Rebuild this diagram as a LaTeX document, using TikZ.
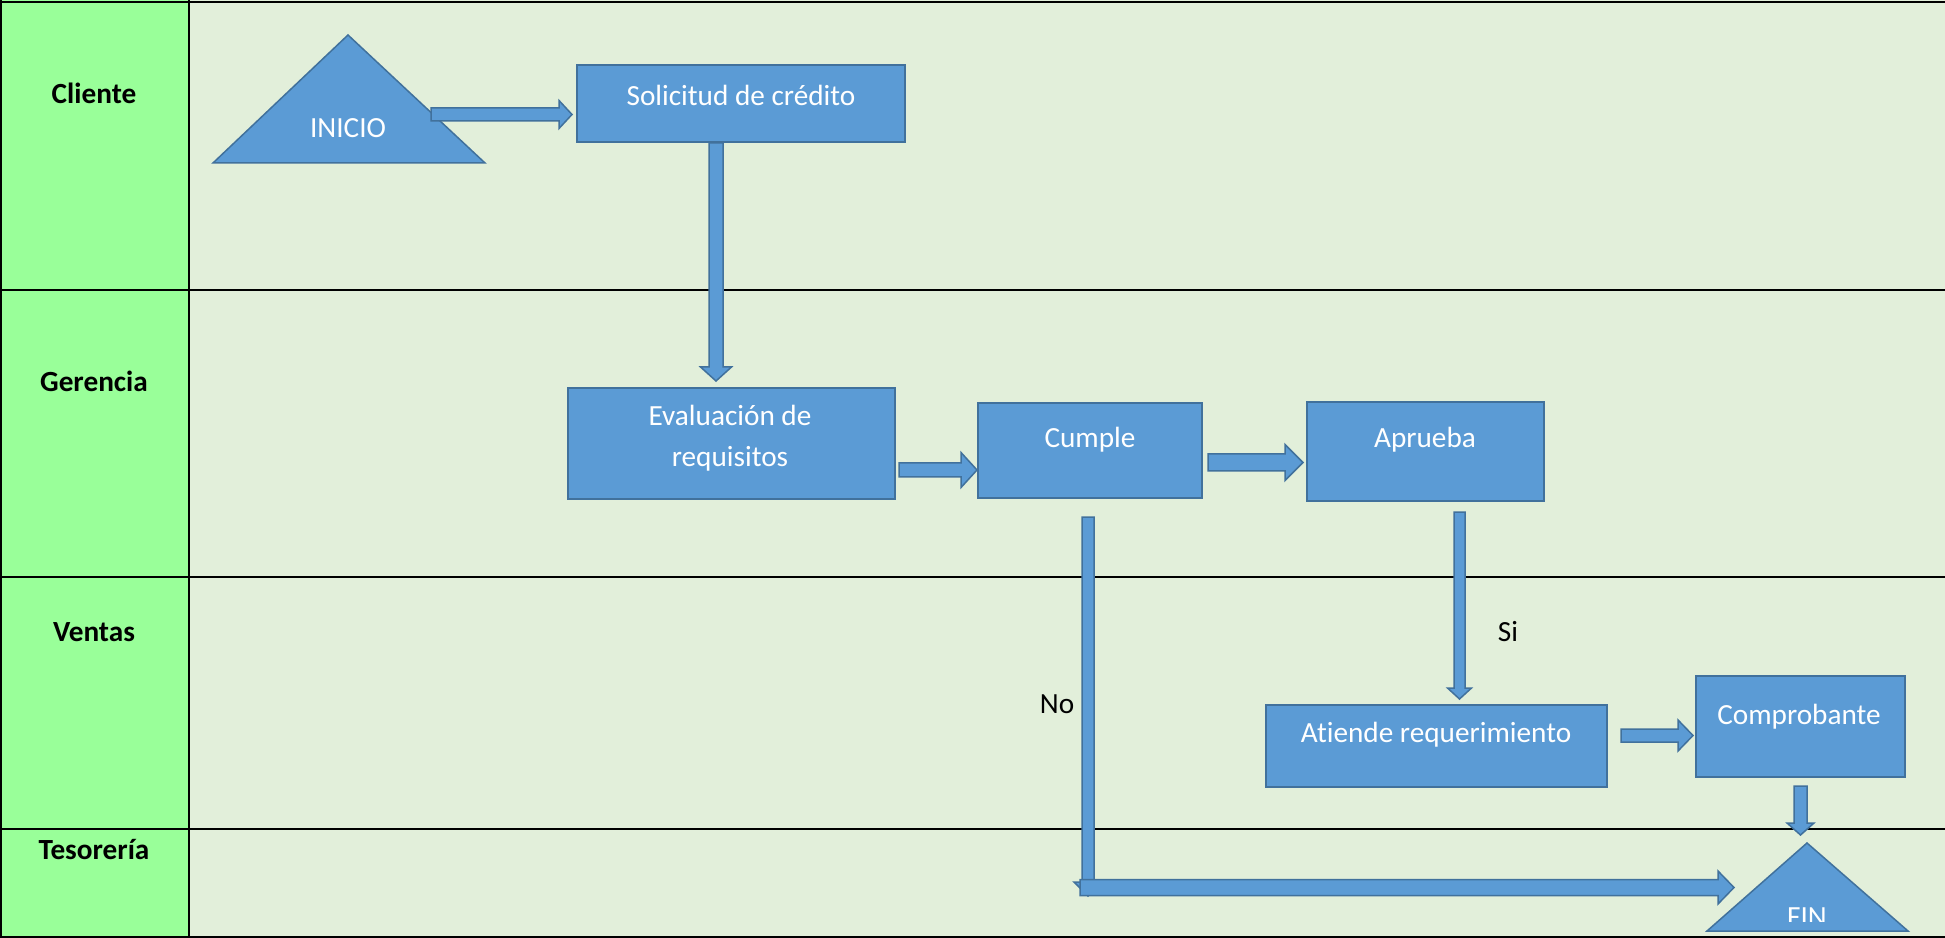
\documentclass[tikz,border=0pt]{standalone}
\usepackage{fontspec}
\setmainfont{Carlito}[Ligatures=NoCommon]
\usetikzlibrary{calc}
\definecolor{lanegreen}{RGB}{153,255,153}
\definecolor{lanebg}{RGB}{226,239,218}
\definecolor{boxblue}{RGB}{91,155,213}
\definecolor{boxedge}{RGB}{65,113,156}
% horizontal block arrow: #1 start, #2 tip (same y), #3 shaft half width, #4 head half width, #5 head length
\newcommand{\harrow}[5]{%
  \path[barrow] ($(#1)+(0,-#3)$) -- ($(#2)+(-#5,-#3)$) -- ($(#2)+(-#5,-#4)$) -- (#2)
    -- ($(#2)+(-#5,#4)$) -- ($(#2)+(-#5,#3)$) -- ($(#1)+(0,#3)$) -- cycle;}
% downward block arrow
\newcommand{\varrow}[5]{%
  \path[barrow] ($(#1)+(-#3,0)$) -- ($(#2)+(-#3,-#5)$) -- ($(#2)+(-#4,-#5)$) -- (#2)
    -- ($(#2)+(#4,-#5)$) -- ($(#2)+(#3,-#5)$) -- ($(#1)+(#3,0)$) -- cycle;}
\tikzset{
  laneline/.style={draw=black, line width=0.9pt},
  box/.style={draw=boxedge, fill=boxblue, line width=0.6pt, inner sep=0pt, rectangle},
  flowshape/.style={draw=boxedge, fill=boxblue, line width=0.6pt, line join=miter},
  barrow/.style={draw=boxedge, fill=boxblue, line width=0.6pt, line join=miter},
  boxtext/.style={text=white, font=\fontsize{11.7}{16.4}\selectfont, align=center, inner sep=0pt},
  lanelabel/.style={text=black, font=\bfseries\fontsize{11.7}{14}\selectfont, inner sep=0pt},
  plainlabel/.style={text=black, font=\fontsize{11.7}{14}\selectfont, inner sep=0pt}
}
\begin{document}
\begin{tikzpicture}[x=0.4pt,y=-0.4pt]
\useasboundingbox (0,0) rectangle (1945,938);
% lanes
\fill[lanegreen] (0,0) rectangle (189,938);
\fill[lanebg] (189,0) rectangle (1945,938);
\draw[laneline] (0,2) -- (1945,2);
\draw[laneline] (0,290) -- (1945,290);
\draw[laneline] (0,577) -- (1945,577);
\draw[laneline] (0,829) -- (1945,829);
\draw[laneline] (0,937) -- (1945,937);
\draw[laneline] (1,0) -- (1,938);
\draw[laneline] (189,0) -- (189,938);
\node[lanelabel] (lcliente) at (94,93) {Cliente};
\node[lanelabel] (lgerencia) at (94,381) {Gerencia};
\node[lanelabel] (lventas) at (94,632) {Ventas};
\node[lanelabel] (ltesoreria) at (94,850) {Tesorería};
% start triangle
\draw[flowshape] (213,163) -- (348,35) -- (485,163) -- cycle;
\node[boxtext] (inicio) at (348,128) {INICIO};
% boxes
\node[box, minimum width=131.2pt, minimum height=30.8pt] (sol) at (741,103.5) {};
\node[boxtext] (solt) at (741,95) {Solicitud de crédito};
\node[box, minimum width=130.8pt, minimum height=44.4pt] (eval) at (731.5,443.5) {};
\node[boxtext] (evalt) at (730,438.5) {Evaluación de\\requisitos};
\node[box, minimum width=89.6pt, minimum height=38pt] (cumple) at (1090,450.5) {};
\node[boxtext] (cumplet) at (1090,440) {Cumple};
\node[box, minimum width=94.8pt, minimum height=39.6pt] (aprueba) at (1425.5,451.5) {};
\node[boxtext] (apruebat) at (1425,440) {Aprueba};
\node[box, minimum width=136.4pt, minimum height=32.8pt] (atiende) at (1436.5,746) {};
\node[boxtext] (atiendet) at (1436,735) {Atiende requerimiento};
\node[box, minimum width=83.6pt, minimum height=40.4pt] (comp) at (1800.5,726.5) {};
\node[boxtext] (compt) at (1799,717) {Comprobante};
% end triangle
\draw[flowshape] (1707,931) -- (1807,843) -- (1908,931) -- cycle;
\begin{scope}
  \clip (1700,840) rectangle (1915,921);
  \node[boxtext] (fin) at (1807,917.5) {FIN};
\end{scope}
% arrow end points
\coordinate (a1s) at (431,114.5);  \coordinate (a1t) at (572,114.5);
\coordinate (a2s) at (716,143);    \coordinate (a2t) at (716,381);
\coordinate (a3s) at (899,470);    \coordinate (a3t) at (977,470);
\coordinate (a4s) at (1208,462.5); \coordinate (a4t) at (1303,462.5);
\coordinate (a5s) at (1459.5,512); \coordinate (a5t) at (1459.5,699);
\coordinate (a6s) at (1088,517);   \coordinate (a6m) at (1088,896);
\coordinate (a6h) at (1080,887.5); \coordinate (a6t) at (1734,887.5);
\coordinate (a7s) at (1621,735.5); \coordinate (a7t) at (1693,735.5);
\coordinate (a8s) at (1800.5,786); \coordinate (a8t) at (1800.5,835);
% arrows
\harrow{a1s}{a1t}{6.5}{14}{13}
\varrow{a2s}{a2t}{7}{15.5}{14}
\harrow{a3s}{a3t}{7}{17.5}{16}
\harrow{a4s}{a4t}{8.5}{18}{18}
\varrow{a5s}{a5t}{5.5}{12}{11}
\varrow{a6s}{a6m}{6}{14}{14}
\harrow{a6h}{a6t}{8}{16.5}{16}
\harrow{a7s}{a7t}{6.5}{15.5}{15}
\varrow{a8s}{a8t}{6.5}{13.5}{12}
% labels
\node[plainlabel] (si) at (1508,632) {Si};
\node[plainlabel] (no) at (1057,704) {No};
\end{tikzpicture}
\end{document}
